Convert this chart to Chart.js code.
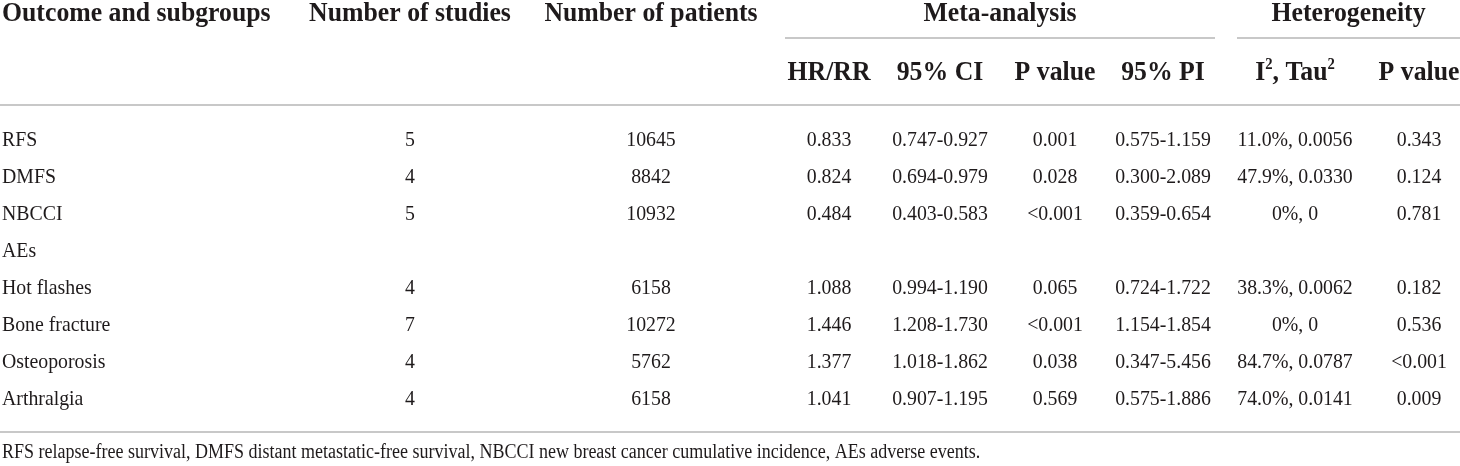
<!DOCTYPE html>
<html>
<head>
<meta charset="utf-8">
<script src="https://cdn.jsdelivr.net/npm/chart.js@4/dist/chart.umd.min.js"></script>
<style>
html,body{margin:0;padding:0;background:#ffffff;}
#wrap{width:1460px;height:466px;position:relative;}
canvas{display:block;}
</style>
</head>
<body>
<div id="wrap"><canvas id="c" width="1460" height="466"></canvas></div>
<script>
// ---------- data ----------
const outcomes = ["RFS", "DMFS", "NBCCI", "AEs", "Hot flashes", "Bone fracture", "Osteoporosis", "Arthralgia"];
const numStudies = [5, 4, 5, null, 4, 7, 4, 4];
const numPatients = [10645, 8842, 10932, null, 6158, 10272, 5762, 6158];
const hrRR = [0.833, 0.824, 0.484, null, 1.088, 1.446, 1.377, 1.041];
const ci95 = ["0.747-0.927", "0.694-0.979", "0.403-0.583", "", "0.994-1.190", "1.208-1.730", "1.018-1.862", "0.907-1.195"];
const pMeta = ["0.001", "0.028", "<0.001", "", "0.065", "<0.001", "0.038", "0.569"];
const pi95 = ["0.575-1.159", "0.300-2.089", "0.359-0.654", "", "0.724-1.722", "1.154-1.854", "0.347-5.456", "0.575-1.886"];
const i2Tau2 = ["11.0%, 0.0056", "47.9%, 0.0330", "0%, 0", "", "38.3%, 0.0062", "0%, 0", "84.7%, 0.0787", "74.0%, 0.0141"];
const pHet = ["0.343", "0.124", "0.781", "", "0.182", "0.536", "<0.001", "0.009"];

const headerTop = ["Outcome and subgroups", "Number of studies", "Number of patients"];
const groupHeaders = ["Meta-analysis", "Heterogeneity"];
const headerSub = ["HR/RR", "95% CI", "P value", "95% PI", "I2, Tau2", "P value"];
const footnote = "RFS relapse-free survival, DMFS distant metastatic-free survival, NBCCI new breast cancer cumulative incidence, AEs adverse events.";

// ---------- layout (style only) ----------
const colX = [2, 410, 651, 829, 940, 1055, 1163, 1295, 1419];
const groupSpan = [[785, 1215], [1237, 1460]];
const LAYOUT = {
  headTopBase: 21, groupLineY: 38, headSubBase: 80, headLineY: 105,
  bottomLineY: 432, footBase: 458, rowBaseOffset: 7
};
const FONT_FAMILY = '"Liberation Serif", "Times New Roman", "DejaVu Serif", serif';
const TEXT_COLOR = '#1e1a1b';
const RULE_COLOR = '#c8c8c8';
const HEAD = { size: 28, sx: 0.92 };
const BODY = { size: 22, sx: 0.9 };
const FOOT = { size: 20, sx: 0.9 };

function cellsForRow(i) {
  return [
    outcomes[i],
    numStudies[i] == null ? '' : String(numStudies[i]),
    numPatients[i] == null ? '' : String(numPatients[i]),
    hrRR[i] == null ? '' : hrRR[i].toFixed(3),
    ci95[i], pMeta[i], pi95[i], i2Tau2[i], pHet[i]
  ];
}

function drawText(ctx, txt, x, y, align, font, sx) {
  ctx.save();
  ctx.font = font;
  ctx.translate(x, y);
  ctx.scale(sx, 1);
  ctx.textAlign = align;
  ctx.fillText(txt, 0, 0);
  ctx.restore();
}

// string with superscript "2" after I / Tau
function drawRich(ctx, text, cx, baseY, size, sx) {
  const segs = [];
  const re = /(I|Tau)2/g;
  let last = 0, m;
  while ((m = re.exec(text)) !== null) {
    segs.push({t: text.slice(last, m.index) + m[1], sup: false});
    segs.push({t: '2', sup: true});
    last = m.index + m[0].length;
  }
  segs.push({t: text.slice(last), sup: false});
  const bigF = 'bold ' + size + 'px ' + FONT_FAMILY;
  const supF = 'bold ' + Math.round(size * 0.56) + 'px ' + FONT_FAMILY;
  let total = 0;
  segs.forEach(s => { ctx.font = s.sup ? supF : bigF; s.w = ctx.measureText(s.t).width; total += s.w; });
  ctx.save();
  ctx.translate(cx, baseY);
  ctx.scale(sx, 1);
  ctx.textAlign = 'left';
  let x = -total / 2;
  segs.forEach(s => {
    ctx.font = s.sup ? supF : bigF;
    ctx.fillText(s.t, x, s.sup ? -size * 0.4 : 0);
    x += s.w;
  });
  ctx.restore();
}

const tablePlugin = {
  id: 'tablePlugin',
  afterDraw(chart) {
    const ctx = chart.ctx;
    const xs = chart.scales.x;
    const ys = chart.scales.y;
    ctx.save();
    ctx.fillStyle = TEXT_COLOR;
    ctx.textBaseline = 'alphabetic';

    // rules
    ctx.strokeStyle = RULE_COLOR;
    ctx.lineWidth = 2;
    const hline = (x0, x1, y) => {
      ctx.beginPath();
      ctx.moveTo(xs.getPixelForValue(x0), y);
      ctx.lineTo(xs.getPixelForValue(x1), y);
      ctx.stroke();
    };
    groupSpan.forEach(sp => hline(sp[0], sp[1], LAYOUT.groupLineY));
    hline(0, 1460, LAYOUT.headLineY);
    hline(0, 1460, LAYOUT.bottomLineY);

    // header row 1
    const hf = 'bold ' + HEAD.size + 'px ' + FONT_FAMILY;
    headerTop.forEach((t, k) => {
      drawText(ctx, t, xs.getPixelForValue(colX[k]), LAYOUT.headTopBase, k === 0 ? 'left' : 'center', hf, HEAD.sx);
    });
    groupHeaders.forEach((t, k) => {
      const c = (groupSpan[k][0] + groupSpan[k][1]) / 2;
      drawText(ctx, t, xs.getPixelForValue(c), LAYOUT.headTopBase, 'center', hf, HEAD.sx);
    });
    // header row 2
    headerSub.forEach((t, k) => {
      const cx = xs.getPixelForValue(colX[k + 3]);
      if (/I2|Tau2/.test(t)) {
        drawRich(ctx, t, cx, LAYOUT.headSubBase, HEAD.size, HEAD.sx);
      } else {
        drawText(ctx, t, cx, LAYOUT.headSubBase, 'center', hf, HEAD.sx);
      }
    });

    // body
    const bf = BODY.size + 'px ' + FONT_FAMILY;
    outcomes.forEach((o, i) => {
      const y = ys.getPixelForValue(i) + LAYOUT.rowBaseOffset;
      cellsForRow(i).forEach((txt, k) => {
        if (!txt) return;
        drawText(ctx, txt, xs.getPixelForValue(colX[k]), y, k === 0 ? 'left' : 'center', bf, BODY.sx);
      });
    });

    // footnote
    drawText(ctx, footnote, xs.getPixelForValue(2), LAYOUT.footBase, 'left', FOOT.size + 'px ' + FONT_FAMILY, FOOT.sx);
    ctx.restore();
  }
};

new Chart(document.getElementById('c'), {
  type: 'scatter',
  data: { datasets: [{ data: [], showLine: false, pointRadius: 0 }] },
  options: {
    responsive: false,
    animation: false,
    layout: { padding: { top: 120.5, bottom: 49.5, left: 0, right: 0 } },
    scales: {
      x: { type: 'linear', min: 0, max: 1460, display: false },
      y: { type: 'category', labels: outcomes, offset: true, display: false }
    },
    plugins: { legend: { display: false }, tooltip: { enabled: false } }
  },
  plugins: [tablePlugin]
});
</script>
</body>
</html>
